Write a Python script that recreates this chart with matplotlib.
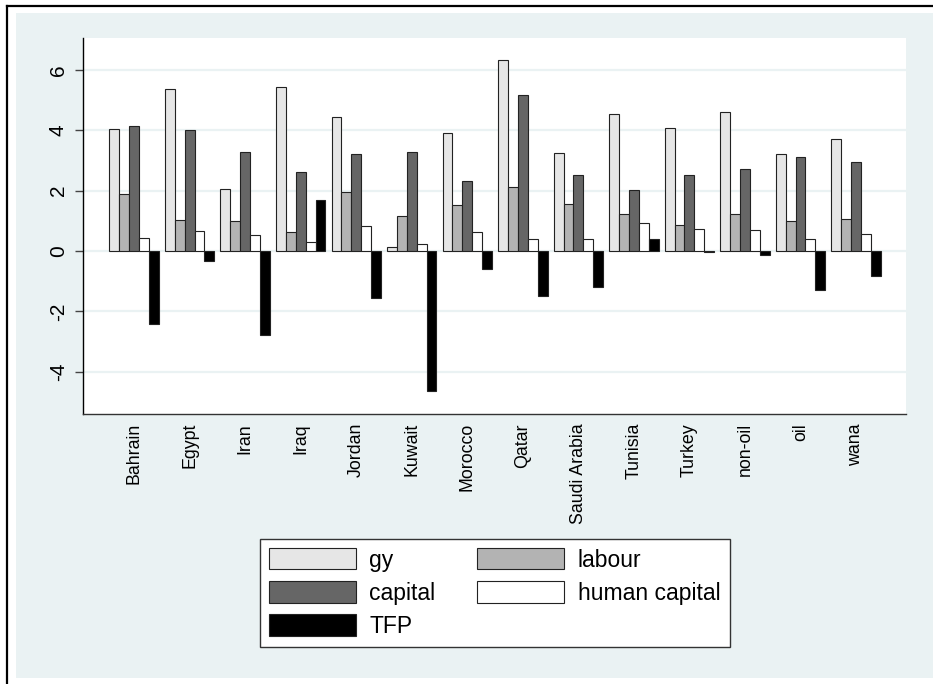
import matplotlib.pyplot as plt
import numpy as np
from matplotlib.patches import Rectangle
from matplotlib.lines import Line2D

plt.rcParams['font.family'] = ['Liberation Sans', 'DejaVu Sans']

# Data
countries = ['Bahrain', 'Egypt', 'Iran', 'Iraq', 'Jordan', 'Kuwait', 'Morocco', 'Qatar',
             'Saudi Arabia', 'Tunisia', 'Turkey', 'non-oil', 'oil', 'wana']
gy = [4.03, 5.37, 2.04, 5.43, 4.43, 0.12, 3.92, 6.31, 3.24, 4.54, 4.07, 4.61, 3.20, 3.70]
labour = [1.88, 1.02, 0.98, 0.61, 1.94, 1.14, 1.52, 2.13, 1.57, 1.22, 0.86, 1.23, 0.98, 1.05]
capital = [4.12, 4.00, 3.26, 2.61, 3.20, 3.27, 2.33, 5.15, 2.50, 2.03, 2.53, 2.72, 3.10, 2.93]
human_capital = [0.44, 0.67, 0.53, 0.29, 0.81, 0.22, 0.63, 0.39, 0.39, 0.92, 0.72, 0.69, 0.39, 0.56]
tfp = [-2.43, -0.35, -2.80, 1.70, -1.55, -4.64, -0.59, -1.48, -1.20, 0.41, -0.04, -0.13, -1.29, -0.84]

series = [gy, labour, capital, human_capital, tfp]
names = ['gy', 'labour', 'capital', 'human capital', 'TFP']
colors = ['#e6e6e6', '#b3b3b3', '#666666', '#ffffff', '#000000']

bg = '#eaf2f3'
fig = plt.figure(figsize=(9.33, 6.84), dpi=100, facecolor='white')

# Stata-like graph region and outer frame
fig.add_artist(Rectangle((16 / 933, 6 / 684), 1.0, 665 / 684, transform=fig.transFigure,
                         facecolor=bg, edgecolor='none', zorder=-10))
fig.add_artist(Line2D([7 / 933, 7 / 933], [0, 678.5 / 684], transform=fig.transFigure,
                      color='black', lw=1.6))
fig.add_artist(Line2D([7 / 933, 1.0], [678.5 / 684, 678.5 / 684], transform=fig.transFigure,
                      color='black', lw=1.6))

ax = fig.add_axes([83 / 933, 1 - 414 / 684, (906 - 83) / 933, (414 - 38) / 684])
ax.set_facecolor('white')

x = np.arange(len(countries))
w = 0.178
handles = []
for i, (vals, name, c) in enumerate(zip(series, names, colors)):
    b = ax.bar(x + (i - 2) * w, vals, w, color=c, edgecolor='#222222', linewidth=0.8,
               label=name, zorder=3)
    handles.append(b)

ax.set_xlim(-0.92, 13.9)
ax.set_ylim(-5.4, 7.05)
ax.set_yticks([-4, -2, 0, 2, 4, 6])
ax.set_yticklabels(['-4', '-2', '0', '2', '4', '6'], rotation=90, va='center', fontsize=15)
ax.set_xticks(x)
ax.set_xticklabels(countries, rotation=90, fontsize=12.8, va='top')
ax.tick_params(axis='x', length=0, pad=6.5)
ax.tick_params(axis='y', length=6, width=1, color='#444444', pad=5)
ax.grid(axis='y', color=bg, linewidth=1.6, zorder=0)
ax.set_axisbelow(True)

for s in ['top', 'right']:
    ax.spines[s].set_visible(False)
ax.spines['left'].set_color('black')
ax.spines['bottom'].set_color('#333333')
ax.spines['left'].set_linewidth(1.0)
ax.spines['bottom'].set_linewidth(1.0)

# row-wise legend order (matplotlib fills columns first)
order = [0, 2, 4, 1, 3]
leg = fig.legend(handles=[handles[k] for k in order], labels=[names[k] for k in order],
                 ncol=2, loc='center',
                 bbox_to_anchor=(494.5 / 933, 1 - 593 / 684), fontsize=16.5,
                 handlelength=3.8, handleheight=1.05, labelspacing=0.42,
                 handletextpad=0.6, columnspacing=1.8, borderpad=0.4,
                 fancybox=False, framealpha=1, edgecolor='#333333', facecolor='white')
leg.get_frame().set_linewidth(1.0)

plt.savefig('out.png', dpi=100, facecolor='white')
